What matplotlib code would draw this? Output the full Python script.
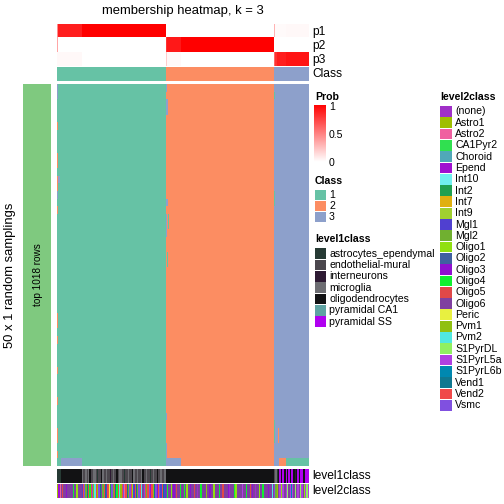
import numpy as np
import matplotlib
matplotlib.use("Agg")
import matplotlib.pyplot as plt
from matplotlib.colors import ListedColormap, LinearSegmentedColormap
from matplotlib.patches import Rectangle

plt.rcParams['font.family'] = ['Liberation Sans', 'DejaVu Sans']

W, H = 504, 504

# ---- categories / colours ----
class_labels = ["1", "2", "3"]
class_colors = ["#66C2A5", "#FC8D62", "#8DA0CB"]

level1_codes = "AEIMOCS"
level1_names = ["astrocytes_ependymal", "endothelial-mural", "interneurons",
                "microglia", "oligodendrocytes", "pyramidal CA1", "pyramidal SS"]
level1_colors = ["#263a34", "#4b474d", "#2e1a33", "#6d6d72", "#121214",
                 "#5fa3a3", "#b000f0"]

level2_codes = "0123456789abcdefghijklmnopq"
level2_names = ["(none)", "Astro1", "Astro2", "CA1Pyr2", "Choroid", "Epend",
                "Int10", "Int2", "Int7", "Int9", "Mgl1", "Mgl2", "Oligo1",
                "Oligo2", "Oligo3", "Oligo4", "Oligo5", "Oligo6", "Peric",
                "Pvm1", "Pvm2", "S1PyrDL", "S1PyrL5a", "S1PyrL6b", "Vend1",
                "Vend2", "Vsmc"]
level2_colors = ["#a030c8", "#9fbf00", "#f060a0", "#30e050", "#50a8b8",
                 "#a010d0", "#70f0f0", "#20a050", "#e0b010", "#a0d030",
                 "#5040d0", "#70b030", "#90e010", "#4060a0", "#9010d0",
                 "#10f030", "#e04848", "#8040a0", "#e8f040", "#90c010",
                 "#50e8e0", "#90f060", "#b040e0", "#0088b0", "#107890",
                 "#f04848", "#8050e0"]

# ---- samples, in consensus order, split in groups ----
group_sizes = [19, 65, 12, 72, 9, 18]
group_class = [1, 1, 2, 2, 3, 3]
p1_group = [0.88, 1.0, 0.0, 0.0, 0.02, 0.03]
p2_group = [0.0, 0.0, 0.9, 1.0, 0.0, 0.0]
p3_group = [0.03, 0.0, 0.03, 0.0, 0.88, 0.92]
# (row, column, value) single samples with mixed membership
prob_edits = [(0, 0, 0.45), (1, 0, 0.35), (2, 84, 0.2), (1, 84, 0.8),
              (0, 168, 0.3), (2, 168, 0.6), (2, 169, 0.8)]

level1_groups = ["AAA" + "O" * 16,
                 "MEEMEMOEEMMEAEEOMEEMEEIEMEEOEMMEEAEEMEEOMEEMEEMOEEMEEAEMEEOEEMEEM",
                 "O" * 12,
                 "O" * 72,
                 "EMAOSOSSO",
                 "SOSOSSOIOSOSSOOSSS"]
level2_groups = ["152hghhehhhhfhhchhh",
                 "apqbogfpqjkp1qohbpoapi7qbpofpkjpq2pobqpcapobqpkhqpbpq5pjoqepqapoa",
                 "hfhhchehghhf",
                 "hhfhchhehhgh0hhfhhhjhhehhchhhfhhghhhe0hhhfchhhhmhhfhhgheh0hhchhfhhhehhkh",
                 "qb1hmcmmh",
                 "mlhmnmhlhmhlmhcmlm"]

# 50 random samplings: (row0, row1, col0, col1, class) where a sampling disagrees
n_rows = 50
deviations = [
    (0, 1, 0, 0, 3), (5, 5, 0, 0, 2), (9, 10, 0, 0, 2), (12, 13, 0, 0, 2),
    (12, 12, 1, 1, 3), (14, 14, 0, 0, 3), (16, 16, 0, 0, 2), (30, 31, 0, 0, 2),
    (33, 33, 0, 0, 2), (37, 37, 0, 0, 2), (41, 41, 0, 0, 2), (45, 46, 0, 0, 2),
    (48, 48, 0, 0, 2),
    (0, 0, 84, 84, 3), (2, 3, 84, 85, 3), (15, 15, 84, 85, 3), (17, 19, 84, 84, 3),
    (17, 18, 86, 86, 1), (22, 23, 85, 85, 1), (43, 43, 84, 84, 3), (47, 48, 84, 84, 3),
    (1, 1, 168, 168, 1), (14, 15, 168, 168, 1), (44, 46, 168, 168, 1),
    (45, 46, 171, 171, 2),
    (49, 49, 3, 18, 3), (49, 49, 84, 95, 3), (49, 49, 168, 171, 3),
    (49, 49, 172, 176, 2), (49, 49, 177, 194, 1),
]

# ---- build arrays ----
base = np.repeat(group_class, group_sizes)
N = len(base)
prob = np.vstack([np.repeat(p1_group, group_sizes),
                  np.repeat(p2_group, group_sizes),
                  np.repeat(p3_group, group_sizes)])
for r, c, v in prob_edits:
    prob[r, c] = v

mat = np.tile(base, (n_rows, 1))
for r0, r1, c0, c1, k in deviations:
    mat[r0:r1 + 1, c0:c1 + 1] = k

lev1 = np.array([level1_codes.index(ch) for ch in "".join(level1_groups)])
lev2 = np.array([level2_codes.index(ch) for ch in "".join(level2_groups)])

fig = plt.figure(figsize=(W / 72, H / 72), dpi=72)


def px_axes(x0, y0, x1, y1):
    a = fig.add_axes([x0 / W, 1 - y1 / H, (x1 - x0) / W, (y1 - y0) / H])
    a.set_axis_off()
    return a


class_cmap = ListedColormap(class_colors)
prob_cmap = LinearSegmentedColormap.from_list("prob", ["white", "red"])

# overlay for texts & legends (pixel coordinates)
ov = fig.add_axes([0, 0, 1, 1])
ov.set_xlim(0, W)
ov.set_ylim(H, 0)
ov.set_axis_off()

hx0, hx1 = 57, 309
LF = 10.5  # legend font size

# top annotation: probabilities
a = px_axes(hx0, 24, hx1, 66)
a.imshow(prob, cmap=prob_cmap, vmin=0, vmax=1, aspect="auto", interpolation="nearest")
a = px_axes(hx0, 67, hx1, 81)
a.imshow(base[None, :], cmap=class_cmap, vmin=0.5, vmax=3.5, aspect="auto", interpolation="nearest")

# main heatmap
a = px_axes(hx0, 84, hx1, 466)
a.imshow(mat, cmap=class_cmap, vmin=0.5, vmax=3.5, aspect="auto", interpolation="nearest")

# bottom annotations
a = px_axes(hx0, 469, hx1, 483)
a.imshow(lev1[None, :], cmap=ListedColormap(level1_colors), vmin=-0.5,
         vmax=len(level1_colors) - 0.5, aspect="auto", interpolation="nearest")
a = px_axes(hx0, 484, hx1, 498)
a.imshow(lev2[None, :], cmap=ListedColormap(level2_colors), vmin=-0.5,
         vmax=len(level2_colors) - 0.5, aspect="auto", interpolation="nearest")

# left split bar
ov.add_patch(Rectangle((23, 84), 28, 382, color="#7FC97F", lw=0))
ov.text(38, 275, "top 1018 rows", rotation=90, ha="center", va="center", fontsize=10)
ov.text(10, 275, "50 x 1 random samplings", rotation=90, ha="center", va="center", fontsize=13)

# title and annotation names
ov.text((hx0 + hx1) / 2, 11, "membership heatmap, k = 3", ha="center", va="center", fontsize=13)
for lab, y in zip(["p1", "p2", "p3", "Class"], [32, 46, 60, 74]):
    ov.text(312, y, lab, ha="left", va="center", fontsize=12)
ov.text(312, 476, "level1class", ha="left", va="center", fontsize=12)
ov.text(312, 491, "level2class", ha="left", va="center", fontsize=12)

# Prob legend
ov.text(315, 97, "Prob", ha="left", va="center", fontsize=LF, fontweight="bold")
a = px_axes(314, 105, 326, 162)
a.imshow(np.linspace(1, 0, 100)[:, None], cmap=prob_cmap, vmin=0, vmax=1,
         aspect="auto", interpolation="bilinear")
for v, s in zip([1, 0.5, 0], ["1", "0.5", "0"]):
    y = 162 - v * 56
    ov.plot([314, 316], [y, y], color="white", lw=0.8)
    ov.plot([324, 326], [y, y], color="white", lw=0.8)
    ov.text(329, y + 1.5, s, ha="left", va="center", fontsize=LF)

# Class legend
ov.text(315, 181, "Class", ha="left", va="center", fontsize=LF, fontweight="bold")
for i, (lab, col) in enumerate(zip(class_labels, class_colors)):
    y = 190 + i * 10.8
    ov.add_patch(Rectangle((315, y), 11, 10.3, color=col, lw=0))
    ov.text(329, y + 5.4, lab, ha="left", va="center", fontsize=LF)

# level1class legend
ov.text(315, 239, "level1class", ha="left", va="center", fontsize=LF, fontweight="bold")
for i, (lab, col) in enumerate(zip(level1_names, level1_colors)):
    y = 248.3 + i * 11.3
    ov.add_patch(Rectangle((315, y), 11, 10.8, color=col, lw=0))
    ov.text(329, y + 5.5, lab, ha="left", va="center", fontsize=LF)

# level2class legend
ov.text(440, 97, "level2class", ha="left", va="center", fontsize=LF, fontweight="bold")
for i, (lab, col) in enumerate(zip(level2_names, level2_colors)):
    y = 106 + i * 11.3
    ov.add_patch(Rectangle((440, y), 12, 10.8, color=col, lw=0))
    ov.text(455, y + 5.5, lab, ha="left", va="center", fontsize=LF)

fig.savefig("out.png", dpi=72)
